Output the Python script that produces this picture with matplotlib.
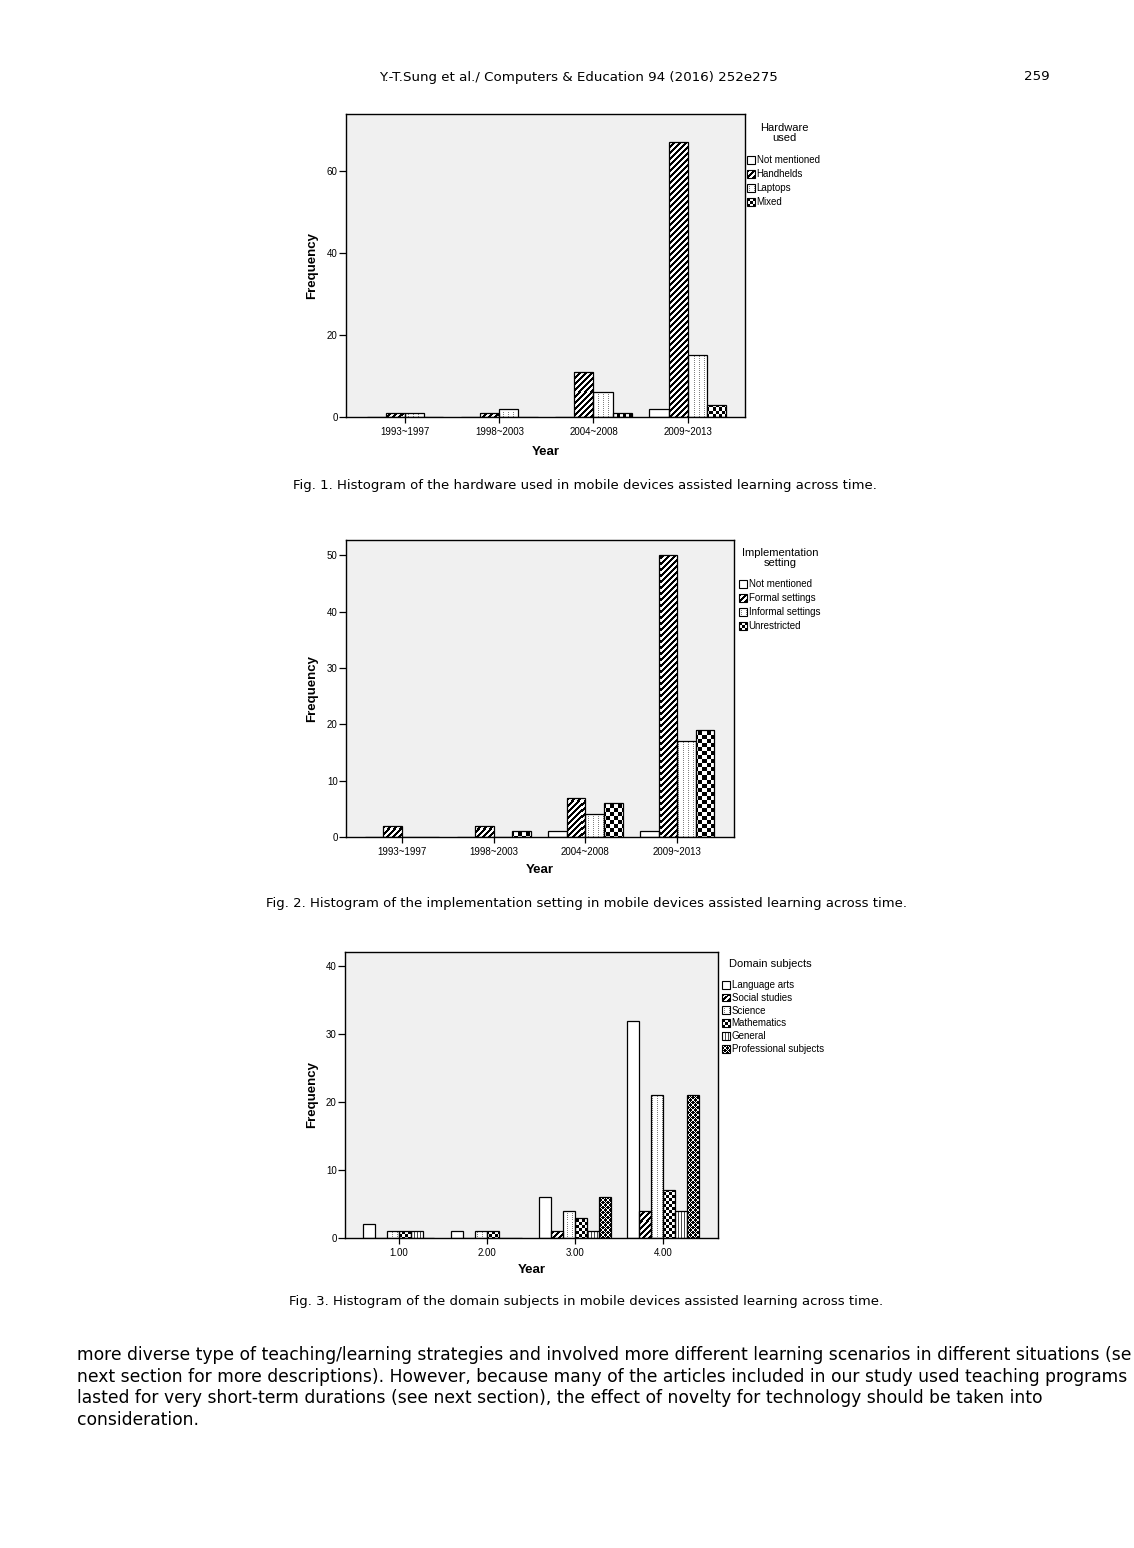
import numpy as np
import matplotlib
matplotlib.use("Agg")
import matplotlib.pyplot as plt
from matplotlib.patches import Rectangle, Patch
from matplotlib.legend_handler import HandlerBase

W, H = 1134, 1548

periods = ["1993~1997", "1998~2003", "2004~2008", "2009~2013"]

hardware_labels = ["Not mentioned", "Handhelds", "Laptops", "Mixed"]
hardware_counts = [
    [0, 0, 0, 2],
    [1, 1, 11, 67],
    [1, 2, 6, 15],
    [0, 0, 1, 3],
]

setting_labels = ["Not mentioned", "Formal settings", "Informal settings", "Unrestricted"]
setting_counts = [
    [0, 0, 1, 1],
    [2, 2, 7, 50],
    [0, 0, 4, 17],
    [0, 1, 6, 19],
]

year_codes = ["1.00", "2.00", "3.00", "4.00"]
subject_labels = ["Language arts", "Social studies", "Science", "Mathematics",
                  "General", "Professional subjects"]
subject_counts = [
    [2, 1, 6, 32],
    [0, 0, 1, 4],
    [1, 1, 4, 21],
    [1, 1, 3, 7],
    [1, 0, 1, 4],
    [0, 0, 6, 21],
]

captions = [
    "Fig. 1. Histogram of the hardware used in mobile devices assisted learning across time.",
    "Fig. 2. Histogram of the implementation setting in mobile devices assisted learning across time.",
    "Fig. 3. Histogram of the domain subjects in mobile devices assisted learning across time.",
]

body_lines = [
    "more diverse type of teaching/learning strategies and involved more different learning scenarios in different situations (se",
    "next section for more descriptions). However, because many of the articles included in our study used teaching programs",
    "lasted for very short-term durations (see next section), the effect of novelty for technology should be taken into",
    "consideration.",
]

plt.rcParams["font.family"] = ["Liberation Sans", "DejaVu Sans"]


def pattern(kind, ny, nx, cell=3):
    # grey level per pixel, 0 = black, 1 = white
    i, j = np.indices((ny, nx))
    if kind == "stripe":
        return np.where((i + j) % 6 < 3, 0.0, 1.0)
    if kind == "dots":
        return np.where((j % 5 == 2) & (i % 2 == 0), 0.5, 1.0)
    if kind == "checker":
        return ((i // cell + j // cell) % 2).astype(float)
    if kind == "vlines":
        return np.where(j % 3 == 0, 0.3, 1.0)
    if kind == "diamond":
        return np.where(((i + j) % 5 == 0) | ((i - j) % 5 == 0), 1.0, 0.0)
    return np.ones((ny, nx))


class TextureHandler(HandlerBase):
    def __init__(self, kind, cell):
        super().__init__()
        self.kind = kind
        self.cell = cell

    def create_artists(self, legend, orig_handle, xdescent, ydescent,
                       width, height, fontsize, trans):
        x0, y0 = -xdescent, -ydescent
        dpi = legend.figure.dpi
        nx = max(1, int(round(width * dpi / 72)))
        ny = max(1, int(round(height * dpi / 72)))
        pw, ph = width / nx, height / ny
        pat = pattern(self.kind, ny, nx, cell=self.cell)
        arts = [Rectangle((x0, y0), width, height, facecolor="white",
                          edgecolor="none", transform=trans)]
        for r in range(ny):
            for c in range(nx):
                v = pat[r, c]
                if v < 1:
                    arts.append(Rectangle((x0 + c * pw, y0 + (ny - 1 - r) * ph), pw, ph,
                                          facecolor=str(v), edgecolor="none",
                                          antialiased=False, transform=trans))
        arts.append(Rectangle((x0, y0), width, height, facecolor="none",
                              edgecolor="black", lw=0.8, transform=trans))
        return arts


def fig_rect(left, top, right, bottom):
    return [left / W, 1 - bottom / H, (right - left) / W, (bottom - top) / H]


def texture_fill(ax, bars, kind, cell):
    pos = ax.get_position()
    nx = int(round(pos.width * W))
    ny = int(round(pos.height * H))
    img = pattern(kind, ny, nx, cell)
    for b in bars:
        if b.get_height() <= 0:
            continue
        im = ax.imshow(img, cmap="gray", vmin=0, vmax=1, extent=(0, 1, 0, 1),
                       transform=ax.transAxes, interpolation="nearest",
                       aspect="auto", zorder=2)
        im.set_clip_path(b)


def draw_chart(fig, rect, cats, labels, counts, styles, xlim, ylim, yticks,
               title, title_xy, legend_xy, spacing, cell, ylab_x, xlab_y):
    ax = fig.add_axes(fig_rect(*rect))
    ax.set_facecolor("#f0f0f0")
    x = np.arange(len(cats))
    n = len(labels)
    width = 0.81 / n
    handles = []
    hmap = {}
    for k, (lab, vals, st) in enumerate(zip(labels, counts, styles)):
        offs = (k - (n - 1) / 2) * width
        face = "white" if st == "plain" else "none"
        bars = ax.bar(x + offs, vals, width, facecolor=face, edgecolor="black",
                      linewidth=0.9, zorder=3)
        if st != "plain":
            texture_fill(ax, bars, st, cell)
        h = Patch(facecolor="white", edgecolor="black", linewidth=0.8, label=lab)
        hmap[h] = TextureHandler(st, 3)
        handles.append(h)

    ax.set_xlim(*xlim)
    ax.set_ylim(*ylim)
    ax.set_xticks(x)
    ax.set_xticklabels(cats)
    ax.set_yticks(yticks)
    ax.tick_params(axis="x", direction="out", length=4, width=0.9, labelsize=7, pad=3)
    ax.tick_params(axis="y", direction="out", length=5, width=0.9, labelsize=7, pad=1)
    for sp in ax.spines.values():
        sp.set_linewidth(1.0)
        sp.set_zorder(5)

    ax.set_ylabel("Frequency", fontsize=9.5, fontweight="bold", va="center")
    ax.yaxis.set_label_coords(ylab_x, 0.5)
    ax.set_xlabel("Year", fontsize=9.5, fontweight="bold", va="center")
    ax.xaxis.set_label_coords(0.5, xlab_y)

    fig.text(title_xy[0] / W, 1 - title_xy[1] / H, title, ha="center", va="center",
             multialignment="center", fontsize=8, linespacing=1.0)
    fig.legend(handles=handles, handler_map=hmap, loc="upper left",
               bbox_to_anchor=(legend_xy[0] / W, 1 - legend_xy[1] / H),
               frameon=False, fontsize=7,
               handlelength=0.85, handleheight=0.85, handletextpad=0.15,
               labelspacing=spacing, borderpad=0, borderaxespad=0)
    return ax


fig = plt.figure(figsize=(W / 100, H / 100), dpi=100)

draw_chart(fig, (346, 114, 745, 417), periods, hardware_labels, hardware_counts,
           ["plain", "stripe", "dots", "checker"],
           (-0.63, 3.61), (0, 73.9), [0, 20, 40, 60],
           "Hardware\nused", (784, 133), (747, 155), 0.42, 3, -0.085, -0.115)

draw_chart(fig, (346, 540, 734, 837), periods, setting_labels, setting_counts,
           ["plain", "stripe", "dots", "checker"],
           (-0.61, 3.62), (0, 52.7), [0, 10, 20, 30, 40, 50],
           "Implementation\nsetting", (780, 558), (739, 579), 0.42, 4, -0.087, -0.112)

draw_chart(fig, (345, 952, 718, 1238), year_codes, subject_labels, subject_counts,
           ["plain", "stripe", "dots", "checker", "vlines", "diamond"],
           (-0.61, 3.625), (0, 42.1), [0, 10, 20, 30, 40],
           "Domain subjects", (770, 964), (722, 980), 0.29, 3, -0.088, -0.113)

page_font = ["DejaVu Sans"]
fig.text(578 / W, 1 - 77 / H, "Y.-T.Sung et al./ Computers & Education 94 (2016) 252e275",
         ha="center", va="center", fontsize=9.6, family=page_font)
fig.text(1050 / W, 1 - 77 / H, "259", ha="right", va="center", fontsize=9.6, family=page_font)

for cap, (cx, cy) in zip(captions, [(585, 485), (587, 903), (586, 1302)]):
    fig.text(cx / W, 1 - cy / H, cap, ha="center", va="center", fontsize=9.5,
             family=page_font)

for i, line in enumerate(body_lines):
    fig.text(77 / W, 1 - (1355 + i * 21.6) / H, line, ha="left", va="center",
             fontsize=12.35, family=page_font)

fig.savefig("out.png", dpi=100)
